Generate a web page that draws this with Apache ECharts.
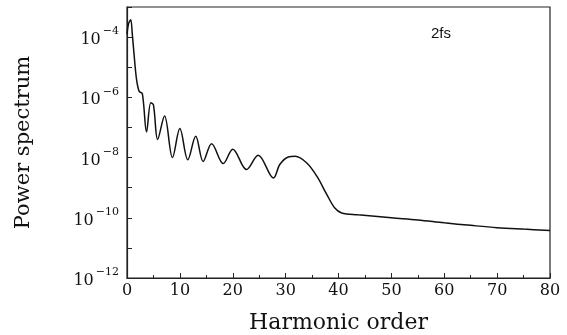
<!DOCTYPE html>
<html>
<head>
<meta charset="UTF-8" />
<title>Power spectrum</title>
<style type="text/css">
body,html{margin:0;padding:0;border:0;width:100%;height:100%;overflow:hidden;background:#fff;}
</style>
<script src="https://cdn.jsdelivr.net/npm/echarts@6/dist/echarts.min.js"></script>
<script type="text/javascript">
// harmonic order (x) and power spectrum (y)
var harmonic = [0, 0.3, 0.7, 1.0, 1.3, 1.8, 2.3, 2.9, 3.7, 4.5, 5.0, 5.8, 7.1, 8.6, 10.0, 11.5, 13.0, 14.4, 16.0,
                18.2, 20.0, 22.6, 24.8, 27.7, 28.9, 30.5, 31.8, 34.0, 35.9, 37.8, 39.3, 40.6, 43.7, 50, 55, 60, 65, 70, 75, 80];
var power = [1.26e-4, 2.82e-4, 3.8e-4, 1.26e-4, 3.16e-5, 3.98e-6, 1.58e-6, 1.32e-6, 7.1e-8, 6.6e-7, 5.6e-7, 4.0e-8,
             2.4e-7, 1.0e-8, 9.3e-8, 8.5e-9, 5.1e-8, 7.4e-9, 2.9e-8, 6.3e-9, 1.9e-8, 4.0e-9, 1.2e-8, 2.1e-9,
             5.9e-9, 1.05e-8, 1.1e-8, 6.6e-9, 2.4e-9, 5.9e-10, 2.1e-10, 1.45e-10, 1.26e-10, 1.0e-10, 8.5e-11, 6.8e-11,
             5.6e-11, 4.7e-11, 4.2e-11, 3.8e-11];
var xTicks = [0, 10, 20, 30, 40, 50, 60, 70, 80];
var yLabelExps = [-12, -10, -8, -6, -4];
var caseLabel = '2fs';

window.onload = function(){ init(); };
function init()
{
	var pts = [];
	for (var i = 0; i < harmonic.length; i++) { pts.push([harmonic[i], power[i]]); }
	var serif = '"DejaVu Serif", "Liberation Serif", serif';

	var option = {
		animation: false,
		grid: { left: 127, right: 17, top: 7, bottom: 57, outerBoundsMode: 'none', containLabel: false,
			show: true, borderColor: '#222', borderWidth: 1.2 },
		xAxis: {
			type: 'value', min: xTicks[0], max: xTicks[xTicks.length - 1], interval: 10,
			name: 'Harmonic order', nameLocation: 'middle', nameGap: 34,
			nameTextStyle: { fontFamily: serif, fontSize: 22, color: '#111' },
			axisLine: { lineStyle: { color: '#222', width: 1.2 } },
			axisTick: { inside: true, length: 5, lineStyle: { color: '#222' } },
			minorTick: { show: true, splitNumber: 2, length: 3, lineStyle: { color: '#222' } },
			axisLabel: { fontFamily: serif, fontSize: 16, color: '#111', margin: 5 },
			splitLine: { show: false }
		},
		yAxis: {
			type: 'log', min: 1e-12, max: 1e-3, interval: 1,
			name: 'Power spectrum', nameLocation: 'middle', nameGap: 93, nameRotate: 90,
			nameTextStyle: { fontFamily: serif, fontSize: 21, color: '#111' },
			axisLine: { lineStyle: { color: '#222', width: 1.2 } },
			axisTick: { inside: true, length: 5, lineStyle: { color: '#222' } },
			axisLabel: {
				margin: 8, color: '#111',
				formatter: function(v){
					var e = Math.round(Math.log10(v));
					if (yLabelExps.indexOf(e) < 0) { return ''; }
					return '{b|10}{e|\u2212' + Math.abs(e) + '}';
				},
				rich: {
					b: { fontFamily: serif, fontSize: 16, color: '#111', lineHeight: 22, verticalAlign: 'bottom' },
					e: { fontFamily: serif, fontSize: 11, color: '#111', lineHeight: 22, verticalAlign: 'top', padding: [0, 0, 0, 2] }
				}
			},
			splitLine: { show: false }
		},
		graphic: [{
			type: 'text', left: 431, top: 26,
			style: { text: caseLabel, fontFamily: 'Liberation Sans, Arial, sans-serif', fontSize: 15, fill: '#111' }
		}],
		series: [{
			type: 'line', data: pts, smooth: 0.35, showSymbol: false,
			lineStyle: { color: '#111', width: 1.5 }
		}]
	};

	var chart = echarts.init(document.getElementById('chartContainer'));
	chart.setOption(option);
}
</script>
</head>
<body>
<div id="chartContainer" style="width:567px;height:335px;"></div>
</body>
</html>
